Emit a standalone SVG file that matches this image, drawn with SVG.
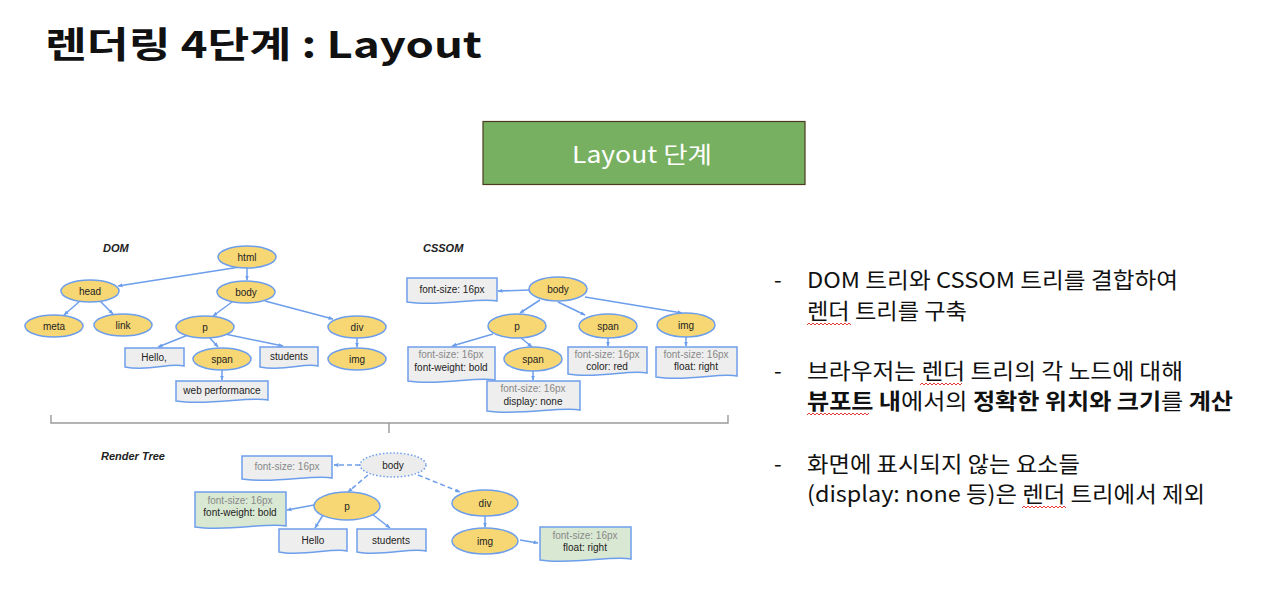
<svg xmlns="http://www.w3.org/2000/svg" width="1264" height="612" viewBox="0 0 1264 612">
<defs>
<marker id="ah" viewBox="0 0 10 10" refX="9" refY="5" markerWidth="5" markerHeight="5" orient="auto" markerUnits="userSpaceOnUse">
<path d="M0,1 L10,5 L0,9 Z" fill="#6d9eeb"/>
</marker>
<style>
.t{font-family:"Liberation Sans",Arial,sans-serif;font-size:10px;fill:#222;text-anchor:middle}
.g{fill:#888}
.h{font-family:"Liberation Sans",Arial,sans-serif;font-size:11px;font-weight:bold;font-style:italic;fill:#222}
.el{fill:#f7d774;stroke:#6d9eeb;stroke-width:1.5}
.bx{fill:#eeeeee;stroke:#6d9eeb;stroke-width:1.5}
.gb{fill:#d9e8d3;stroke:#6d9eeb;stroke-width:1.5}
.e{fill:none;stroke:#6d9eeb;stroke-width:1.5;marker-end:url(#ah)}
.d{stroke-dasharray:5 3}
.k{font-family:"Noto Sans CJK KR","Noto Sans",sans-serif;font-size:22px;fill:#111}
.w{fill:none;stroke:#e53935;stroke-width:1}
</style>
</defs>
<rect width="1264" height="612" fill="#ffffff"/>
<text x="45" y="58" font-family="'Noto Sans CJK KR','Noto Sans',sans-serif" font-size="36" font-weight="bold" fill="#111" textLength="437" lengthAdjust="spacingAndGlyphs">렌더링 4단계 : Layout</text>
<g id="layout-box">
<rect x="483" y="121.5" width="322" height="63" fill="#78b061" stroke="#4b3a1e" stroke-width="1.2"/>
<text x="572" y="163" font-family="'Noto Sans CJK KR','Noto Sans',sans-serif" font-size="23" fill="#ffffff" textLength="140" lengthAdjust="spacingAndGlyphs">Layout 단계</text>
</g>
<text class="h" x="103" y="252">DOM</text>
<text class="h" x="423" y="252">CSSOM</text>
<text class="h" x="101" y="460">Render Tree</text>
<g id="connectors">
<line class="e" x1="240" y1="267" x2="118" y2="286"/>
<line class="e" x1="247" y1="268" x2="247" y2="280"/>
<line class="e" x1="80" y1="301" x2="64" y2="315"/>
<line class="e" x1="100" y1="301" x2="113" y2="314"/>
<line class="e" x1="232" y1="302" x2="213" y2="316"/>
<line class="e" x1="265" y1="301" x2="333" y2="319"/>
<line class="e" x1="188" y1="335" x2="158" y2="347"/>
<line class="e" x1="209" y1="337" x2="218" y2="347"/>
<line class="e" x1="225" y1="334" x2="283" y2="346"/>
<line class="e" x1="222" y1="370" x2="222" y2="380"/>
<line class="e" x1="357" y1="338" x2="357" y2="347"/>
<line class="e" x1="530" y1="290" x2="498" y2="291"/>
<line class="e" x1="540" y1="300" x2="520" y2="313"/>
<line class="e" x1="558" y1="302" x2="585" y2="315"/>
<line class="e" x1="585" y1="297" x2="682" y2="313"/>
<line class="e" x1="493" y1="334" x2="452" y2="346"/>
<line class="e" x1="520" y1="337" x2="532" y2="347"/>
<line class="e" x1="608" y1="338" x2="608" y2="346"/>
<line class="e" x1="686" y1="337" x2="686" y2="346"/>
<line class="e" x1="533" y1="371" x2="533" y2="380"/>
<line class="e d" x1="360" y1="465" x2="334" y2="465"/>
<line class="e d" x1="368" y1="475" x2="348" y2="492"/>
<line class="e d" x1="418" y1="475" x2="460" y2="492"/>
<line class="e" x1="314" y1="505" x2="287" y2="510"/>
<line class="e" x1="323" y1="515" x2="315" y2="528"/>
<line class="e" x1="372" y1="514" x2="390" y2="528"/>
<line class="e" x1="485" y1="516" x2="485" y2="527"/>
<line class="e" x1="520" y1="540" x2="538" y2="543"/>
</g>
<g id="dom-html"><ellipse class="el" cx="247" cy="257" rx="29" ry="11"/><text class="t" x="247" y="261">html</text></g>
<g id="dom-head"><ellipse class="el" cx="90" cy="291" rx="29" ry="11"/><text class="t" x="90" y="295">head</text></g>
<g id="dom-body"><ellipse class="el" cx="246" cy="292" rx="29" ry="11"/><text class="t" x="246" y="296">body</text></g>
<g id="dom-meta"><ellipse class="el" cx="54" cy="326" rx="29" ry="11"/><text class="t" x="54" y="330">meta</text></g>
<g id="dom-link"><ellipse class="el" cx="123" cy="325" rx="29" ry="11"/><text class="t" x="123" y="329">link</text></g>
<g id="dom-p"><ellipse class="el" cx="205" cy="327" rx="29" ry="11"/><text class="t" x="205" y="331">p</text></g>
<g id="dom-div"><ellipse class="el" cx="357" cy="327" rx="29" ry="11"/><text class="t" x="357" y="331">div</text></g>
<g id="dom-span"><ellipse class="el" cx="222" cy="359" rx="29" ry="11"/><text class="t" x="222" y="363">span</text></g>
<g id="dom-img"><ellipse class="el" cx="357" cy="359" rx="29" ry="11"/><text class="t" x="357" y="363">img</text></g>
<g id="dom-hello"><path class="bx" d="M125,348 H184 V366 C170,362 150,372 125,367 Z"/><text class="t" x="154" y="361">Hello,</text></g>
<g id="dom-students"><path class="bx" d="M260,347 H318 V366 C305,362 285,372 260,367 Z"/><text class="t" x="289" y="360">students</text></g>
<g id="dom-webperf"><path class="bx" d="M176,381 H268 V400 C250,396 210,406 176,401 Z"/><text class="t" x="222" y="394">web performance</text></g>
<g id="css-body"><ellipse class="el" cx="558" cy="289" rx="29" ry="12"/><text class="t" x="558" y="293">body</text></g>
<g id="css-p"><ellipse class="el" cx="517" cy="326" rx="29" ry="12"/><text class="t" x="517" y="330">p</text></g>
<g id="css-span1"><ellipse class="el" cx="608" cy="326" rx="29" ry="12"/><text class="t" x="608" y="330">span</text></g>
<g id="css-img"><ellipse class="el" cx="686" cy="325" rx="29" ry="12"/><text class="t" x="686" y="329">img</text></g>
<g id="css-span2"><ellipse class="el" cx="533" cy="359" rx="29" ry="12"/><text class="t" x="533" y="363">span</text></g>
<g id="css-fs"><path class="bx" d="M407,278 H497 V301 C480,297 440,307 407,302 Z"/><text class="t" x="452" y="293">font-size: 16px</text></g>
<g id="css-pbox"><path class="bx" d="M408,347 H495 V380 C478,376 440,386 408,381 Z"/><text class="t g" x="451" y="358">font-size: 16px</text><text class="t" x="451" y="371">font-weight: bold</text></g>
<g id="css-spanbox2"><path class="bx" d="M487,381 H580 V410 C562,406 520,416 487,411 Z"/><text class="t g" x="533" y="392">font-size: 16px</text><text class="t" x="533" y="405">display: none</text></g>
<g id="css-spanbox1"><path class="bx" d="M568,347 H647 V373 C632,369 598,379 568,374 Z"/><text class="t g" x="607" y="358">font-size: 16px</text><text class="t" x="607" y="370">color: red</text></g>
<g id="css-imgbox"><path class="bx" d="M656,347 H737 V376 C722,372 688,382 656,377 Z"/><text class="t g" x="696" y="358">font-size: 16px</text><text class="t" x="696" y="370">float: right</text></g>
<g id="brace"><path d="M51,415 V423 H728 V415 M389,423 V433" fill="none" stroke="#9a9a9a" stroke-width="1.4"/></g>
<g id="rt-body"><ellipse cx="393" cy="465" rx="33" ry="12" fill="#ececec" stroke="#6d9eeb" stroke-width="1.5" stroke-dasharray="1.5 2"/><text class="t" x="393" y="469">body</text></g>
<g id="rt-p"><ellipse class="el" cx="347" cy="506" rx="33" ry="14"/><text class="t" x="347" y="510">p</text></g>
<g id="rt-div"><ellipse class="el" cx="485" cy="503" rx="33" ry="13"/><text class="t" x="485" y="507">div</text></g>
<g id="rt-img"><ellipse class="el" cx="485" cy="541" rx="33" ry="13"/><text class="t" x="485" y="545">img</text></g>
<g id="rt-fs"><path class="bx" d="M242,456 H332 V478 C315,474 275,484 242,479 Z"/><text class="t g" x="287" y="470">font-size: 16px</text></g>
<g id="rt-pbox"><path class="gb" d="M195,492 H286 V526 C268,522 228,532 195,527 Z"/><text class="t g" x="240" y="504">font-size: 16px</text><text class="t" x="240" y="516">font-weight: bold</text></g>
<g id="rt-hello"><path class="bx" d="M279,529 H347 V551 C334,547 303,557 279,552 Z"/><text class="t" x="313" y="544">Hello</text></g>
<g id="rt-students"><path class="bx" d="M357,529 H426 V551 C412,547 381,557 357,552 Z"/><text class="t" x="391" y="544">students</text></g>
<g id="rt-imgbox"><path class="gb" d="M540,527 H631 V559 C613,555 573,565 540,560 Z"/><text class="t g" x="585" y="539">font-size: 16px</text><text class="t" x="585" y="551">float: right</text></g>
<g id="bullets">
<text class="k" x="774" y="288">-</text>
<text class="k" x="807" y="288" textLength="371" lengthAdjust="spacingAndGlyphs">DOM 트리와 CSSOM 트리를 결합하여</text>
<text class="k" x="807" y="319" textLength="160" lengthAdjust="spacingAndGlyphs">렌더 트리를 구축</text>
<text class="k" x="774" y="379">-</text>
<text class="k" x="807" y="379" textLength="376" lengthAdjust="spacingAndGlyphs">브라우저는 렌더 트리의 각 노드에 대해</text>
<text class="k" x="807" y="409" textLength="426" lengthAdjust="spacingAndGlyphs"><tspan font-weight="bold">뷰포트</tspan> <tspan font-weight="bold">내</tspan>에서의 <tspan font-weight="bold">정확한 위치와 크기</tspan>를 <tspan font-weight="bold">계산</tspan></text>
<text class="k" x="774" y="472">-</text>
<text class="k" x="807" y="472" textLength="273" lengthAdjust="spacingAndGlyphs">화면에 표시되지 않는 요소들</text>
<text class="k" x="807" y="502" textLength="398" lengthAdjust="spacingAndGlyphs">(display: none 등)은 렌더 트리에서 제외</text>
</g>
<g id="spellmarks">
<path class="w" d="M807,325 l2,-2 l2,2 l2,-2 l2,2 l2,-2 l2,2 l2,-2 l2,2 l2,-2 l2,2 l2,-2 l2,2 l2,-2 l2,2 l2,-2 l2,2 l2,-2 l2,2 l2,-2 l2,2 l2,-2 l2,2"/>
<path class="w" d="M920,385 l2,-2 l2,2 l2,-2 l2,2 l2,-2 l2,2 l2,-2 l2,2 l2,-2 l2,2 l2,-2 l2,2 l2,-2 l2,2 l2,-2 l2,2 l2,-2 l2,2 l2,-2 l2,2 l2,-2"/>
<path class="w" d="M807,415 l2,-2 l2,2 l2,-2 l2,2 l2,-2 l2,2 l2,-2 l2,2 l2,-2 l2,2 l2,-2 l2,2 l2,-2 l2,2 l2,-2 l2,2 l2,-2 l2,2 l2,-2 l2,2 l2,-2 l2,2 l2,-2 l2,2 l2,-2 l2,2 l2,-2 l2,2 l2,-2 l2,2 l2,-2"/>
<path class="w" d="M1022,508 l2,-2 l2,2 l2,-2 l2,2 l2,-2 l2,2 l2,-2 l2,2 l2,-2 l2,2 l2,-2 l2,2 l2,-2 l2,2 l2,-2 l2,2 l2,-2 l2,2 l2,-2 l2,2 l2,-2 l2,2"/>
</g>
</svg>
